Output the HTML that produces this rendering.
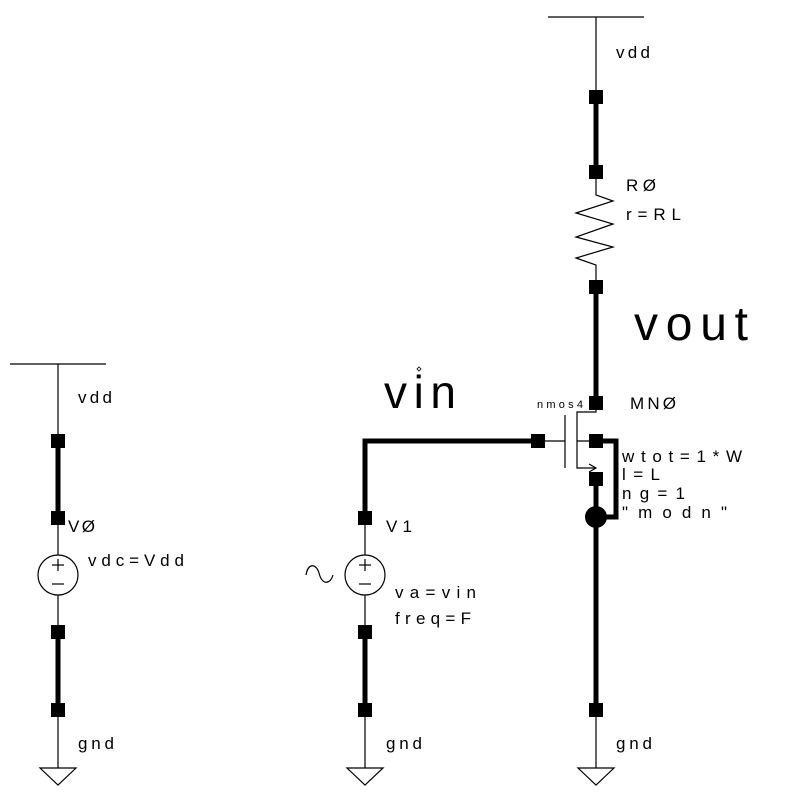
<!DOCTYPE html>
<html><head><style>
html,body{margin:0;padding:0;background:#fff;}
svg{display:block;}
text{font-family:"Liberation Sans",sans-serif;fill:#000;}
</style></head><body>
<svg width="807" height="805" viewBox="0 0 807 805" xmlns="http://www.w3.org/2000/svg">
<g stroke="#000" fill="none" stroke-width="1.2">
 <line x1="548" y1="17" x2="644" y2="17"/>
 <line x1="596" y1="17" x2="596" y2="97"/>
 <polyline points="596,172 596,195 613,201 576,213 613,224 576,237 613,247 576,258 596,265 596,287"/>
 <polyline points="596,403 596,412 577,412 577,468 596,468"/>
 <line x1="577" y1="441" x2="596" y2="441"/>
 <line x1="565" y1="415" x2="565" y2="468"/>
 <line x1="538" y1="441" x2="565" y2="441"/>
 <polyline points="589,464 596,468 589,472"/>
 <line x1="596" y1="710" x2="596" y2="768"/>
 <polygon points="578,768 614,768 596,785"/>
 <line x1="365" y1="518" x2="365" y2="632"/>
 <circle cx="365" cy="575" r="20" fill="#fff"/>
 <line x1="365" y1="710" x2="365" y2="768"/>
 <polygon points="347,768 383,768 365,785"/>
 <path d="M306,575 C308,563 316,563 319,573 C322,585 330,585 333,575"/>
 <line x1="10" y1="364" x2="106" y2="364"/>
 <line x1="58" y1="364" x2="58" y2="441"/>
 <line x1="58" y1="518" x2="58" y2="632"/>
 <circle cx="58" cy="575" r="20" fill="#fff"/>
 <line x1="58" y1="710" x2="58" y2="768"/>
 <polygon points="40,768 76,768 58,785"/>
 <line x1="52" y1="565" x2="64" y2="565"/><line x1="58" y1="559" x2="58" y2="571"/>
 <line x1="52" y1="584" x2="64" y2="584"/>
 <line x1="359" y1="565" x2="371" y2="565"/><line x1="365" y1="559" x2="365" y2="571"/>
 <line x1="359" y1="584" x2="371" y2="584"/>
 <polygon points="419,367 421,369 419,371 417,369" stroke-width="0.8"/>
</g>
<g stroke="#000" fill="none" stroke-width="5">
 <line x1="596" y1="97" x2="596" y2="172"/>
 <line x1="596" y1="287" x2="596" y2="403"/>
 <polyline points="596,441 616,441 616,517 596,517"/>
 <line x1="596" y1="479" x2="596" y2="710"/>
 <polyline points="538,441 365,441 365,518"/>
 <line x1="365" y1="632" x2="365" y2="710"/>
 <line x1="58" y1="441" x2="58" y2="518"/>
 <line x1="58" y1="632" x2="58" y2="710"/>
</g>
<g fill="#000">
 <rect x="589" y="90" width="14" height="14"/>
 <rect x="589" y="165" width="14" height="14"/>
 <rect x="589" y="280" width="14" height="14"/>
 <rect x="589" y="396" width="14" height="14"/>
 <rect x="589" y="434" width="14" height="14"/>
 <rect x="589" y="472" width="14" height="14"/>
 <rect x="531" y="434" width="14" height="14"/>
 <circle cx="596" cy="517" r="11"/>
 <rect x="589" y="703" width="14" height="14"/>
 <rect x="358" y="511" width="14" height="14"/>
 <rect x="358" y="625" width="14" height="14"/>
 <rect x="358" y="703" width="14" height="14"/>
 <rect x="51" y="434" width="14" height="14"/>
 <rect x="51" y="511" width="14" height="14"/>
 <rect x="51" y="625" width="14" height="14"/>
 <rect x="51" y="703" width="14" height="14"/>
</g>
<g font-size="17">
 <text x="616" y="58" textLength="34" lengthAdjust="spacing">vdd</text>
 <text x="626" y="191" textLength="30" lengthAdjust="spacing">RØ</text>
 <text x="626" y="220" textLength="55" lengthAdjust="spacing">r=RL</text>
 <text x="630" y="409" textLength="46" lengthAdjust="spacing">MNØ</text>
 <text x="622" y="462" textLength="120" lengthAdjust="spacing">wtot=1*W</text>
 <text x="622" y="480" textLength="38" lengthAdjust="spacing">l=L</text>
 <text x="622" y="499" textLength="63" lengthAdjust="spacing">ng=1</text>
 <text x="622" y="518" textLength="105" lengthAdjust="spacing">"modn"</text>
 <text x="616" y="749" textLength="36" lengthAdjust="spacing">gnd</text>
 <text x="386" y="532" textLength="26" lengthAdjust="spacing">V1</text>
 <text x="395" y="598" textLength="81" lengthAdjust="spacing">va=vin</text>
 <text x="395" y="624" textLength="76" lengthAdjust="spacing">freq=F</text>
 <text x="386" y="749" textLength="36" lengthAdjust="spacing">gnd</text>
 <text x="78" y="403" textLength="34" lengthAdjust="spacing">vdd</text>
 <text x="68" y="532" textLength="27" lengthAdjust="spacing">VØ</text>
 <text x="88" y="566" textLength="96" lengthAdjust="spacing">vdc=Vdd</text>
 <text x="78" y="749" textLength="36" lengthAdjust="spacing">gnd</text>
</g>
<text x="537" y="408" font-size="11" textLength="46" lengthAdjust="spacing">nmos4</text>
<text x="634" y="340" font-size="48" textLength="114" lengthAdjust="spacing">vout</text>
<text x="384" y="408" font-size="46" textLength="72" lengthAdjust="spacing">vin</text>
</svg>
</body></html>
